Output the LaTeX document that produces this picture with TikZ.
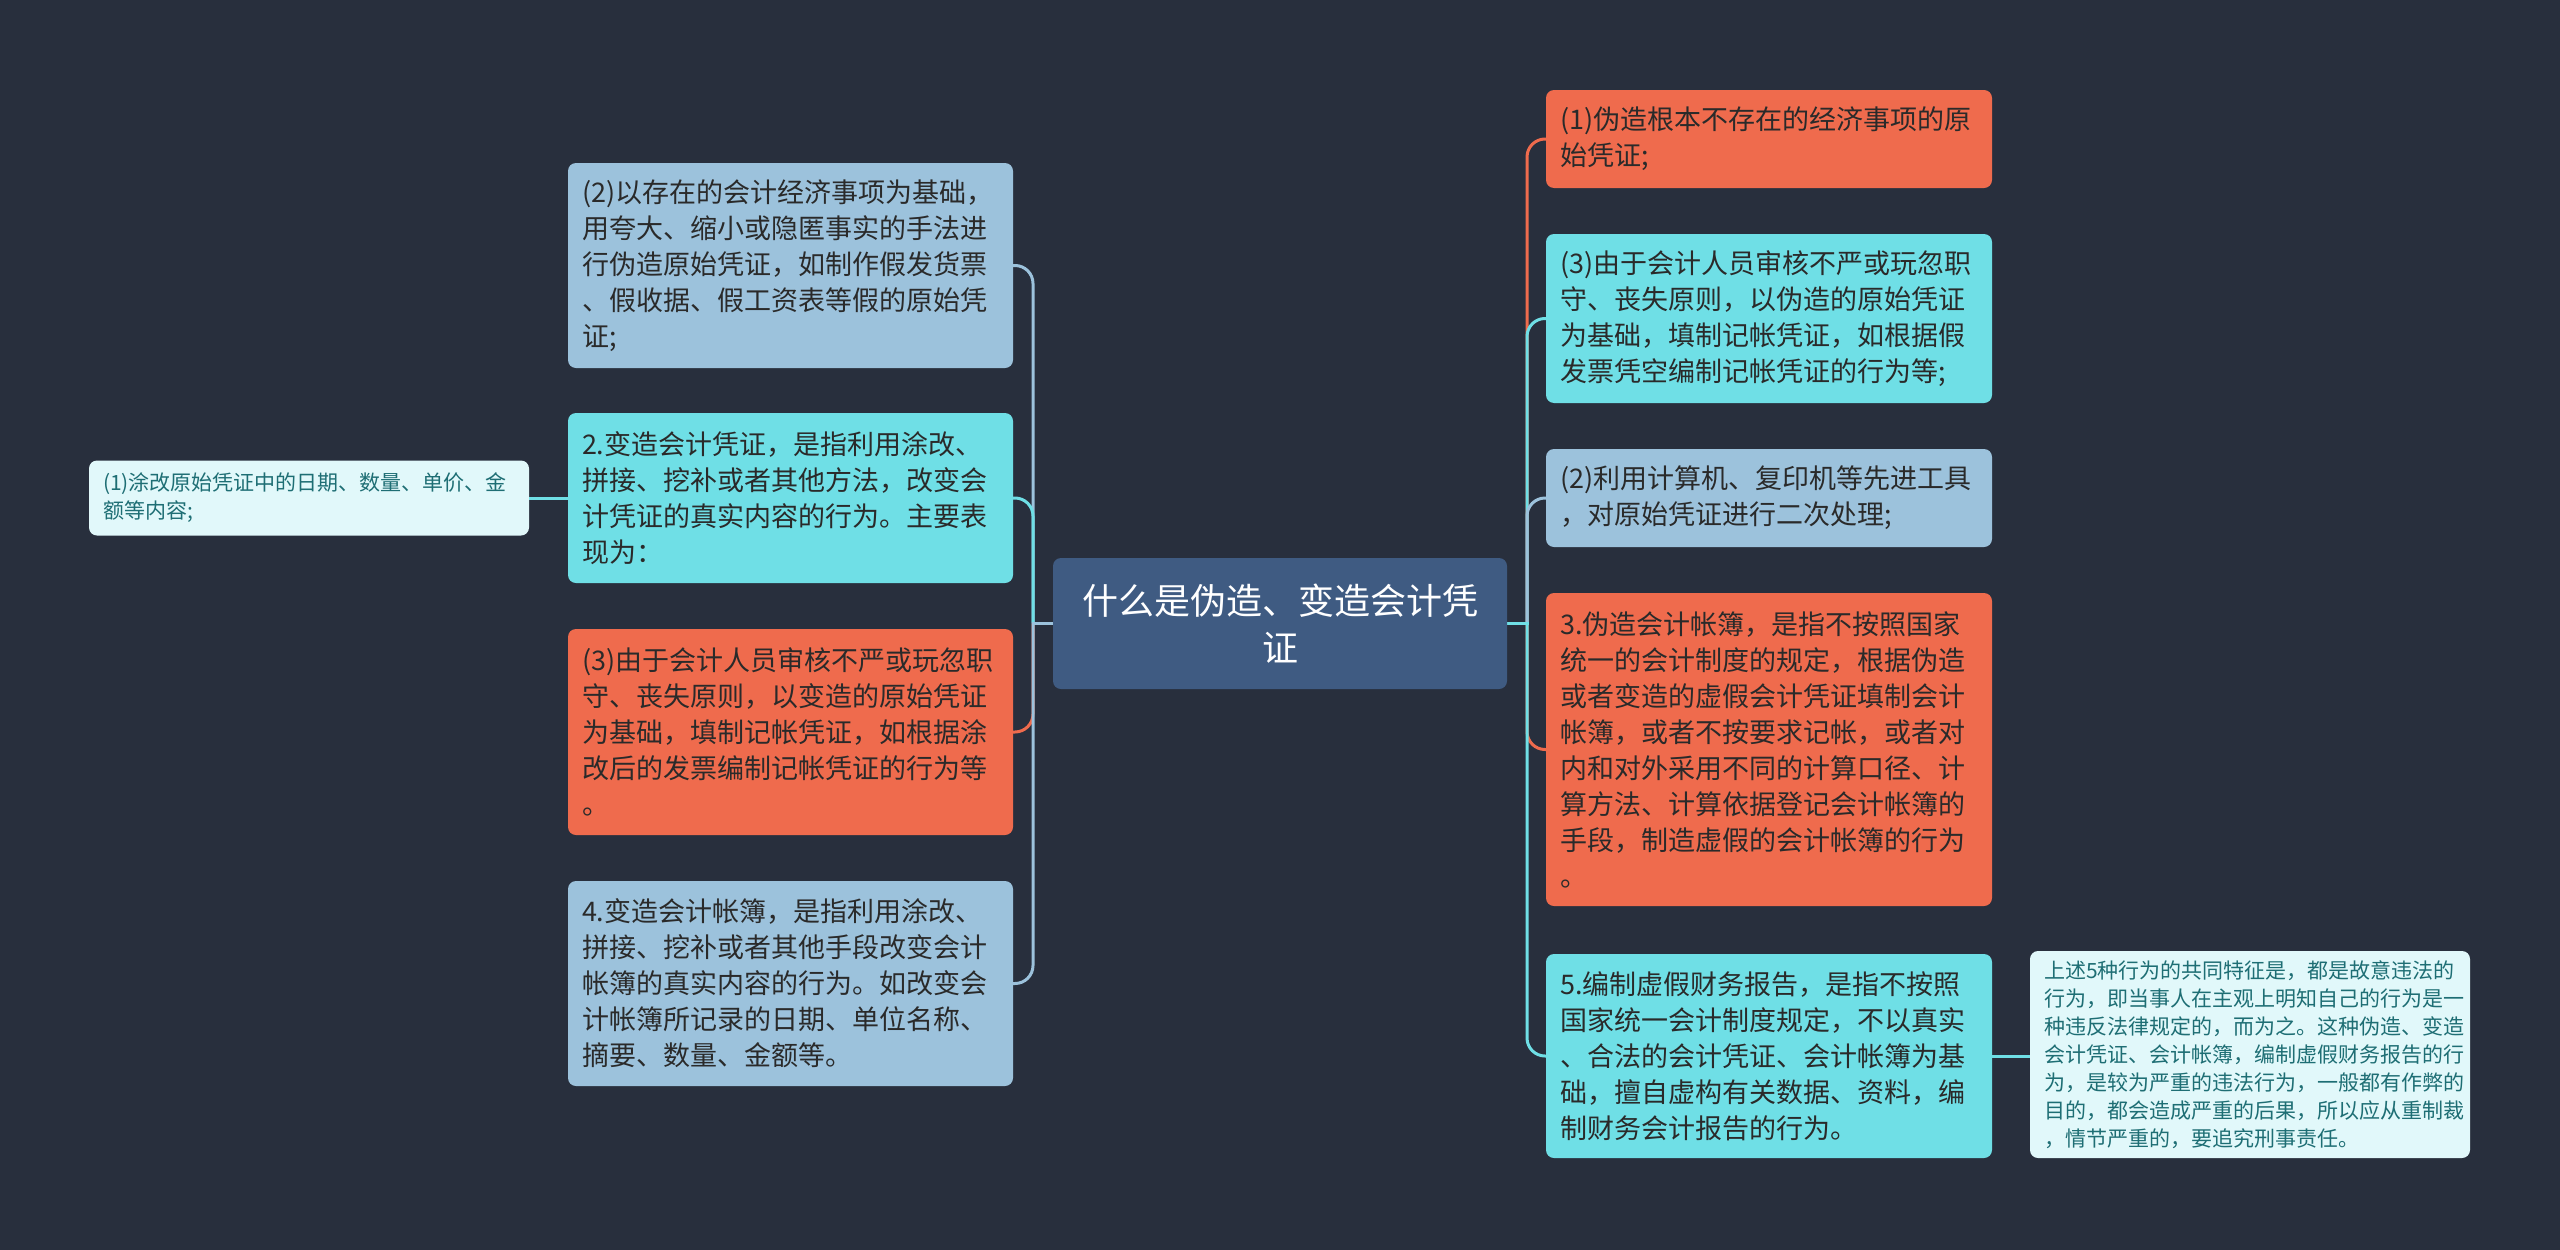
\documentclass[tikz,border=0pt]{standalone}
\usepackage{fontspec}
\setmainfont{Noto Sans CJK SC}
\definecolor{bgc}{HTML}{282F3D}
\definecolor{orng}{HTML}{EF6B4D}
\definecolor{cyn}{HTML}{6FDFE6}
\definecolor{lblu}{HTML}{9CC2DC}
\definecolor{cntr}{HTML}{3F5B82}
\definecolor{pale}{HTML}{E1F8FA}
\definecolor{txt}{HTML}{2A2A2A}
\definecolor{teal}{HTML}{1E6E74}
\pgfdeclarelayer{bglayer}
\pgfdeclarelayer{linelayer}
\pgfsetlayers{bglayer,linelayer,main}
\tikzset{
  box/.style={rounded corners=8pt, inner xsep=14pt, inner ysep=0pt, align=left,
    text=txt, font=\fontsize{27}{36}\selectfont},
  bigL/.style={box, text width=417pt},
  bigR/.style={box, text width=418pt},
  small/.style={box, text=teal, fill=pale, text width=412pt, font=\fontsize{21}{28}\selectfont},
  conn/.style={line width=3pt, rounded corners=18pt},
}
\begin{document}
\begin{tikzpicture}[x=1pt,y=-1pt]
\begin{pgfonlayer}{bglayer}
\fill[bgc] (0,0) rectangle (2560,1250);
\end{pgfonlayer}
\useasboundingbox (0,0) rectangle (2560,1250);

% central
\node[rounded corners=8pt, fill=cntr, text=white, align=center, minimum width=454pt,
  minimum height=131pt, inner sep=0pt, font=\fontsize{36}{47}\selectfont] (C) at (1280,623.5)
  {什么是伪造、变造会计凭\\证};

% left
\node[bigL, fill=lblu, minimum height=205pt] (L2) at (790.5,265.5)
  {(2)以存在的会计经济事项为基础，\\用夸大、缩小或隐匿事实的手法进\\行伪造原始凭证，如制作假发货票\\、假收据、假工资表等假的原始凭\\证;};
\node[bigL, fill=cyn, minimum height=170pt] (Lb) at (790.5,498)
  {2.变造会计凭证，是指利用涂改、\\拼接、挖补或者其他方法，改变会\\计凭证的真实内容的行为。主要表\\现为：};
\node[bigL, fill=orng, minimum height=206pt] (L3) at (790.5,732)
  {(3)由于会计人员审核不严或玩忽职\\守、丧失原则，以变造的原始凭证\\为基础，填制记帐凭证，如根据涂\\改后的发票编制记帐凭证的行为等\\。};
\node[bigL, fill=lblu, minimum height=205pt] (L4) at (790.5,983.5)
  {4.变造会计帐簿，是指利用涂改、\\拼接、挖补或者其他手段改变会计\\帐簿的真实内容的行为。如改变会\\计帐簿所记录的日期、单位名称、\\摘要、数量、金额等。};
\node[small, minimum height=75pt, text width=412pt] (LL1) at (309,498)
  {(1)涂改原始凭证中的日期、数量、单价、金\\额等内容;};

% right
\node[bigR, fill=orng, minimum height=98pt] (R1) at (1769,139)
  {(1)伪造根本不存在的经济事项的原\\始凭证;};
\node[bigR, fill=cyn, minimum height=169pt] (R3) at (1769,318.5)
  {(3)由于会计人员审核不严或玩忽职\\守、丧失原则，以伪造的原始凭证\\为基础，填制记帐凭证，如根据假\\发票凭空编制记帐凭证的行为等;};
\node[bigR, fill=lblu, minimum height=98pt] (R2) at (1769,498)
  {(2)利用计算机、复印机等先进工具\\，对原始凭证进行二次处理;};
\node[bigR, fill=orng, minimum height=313pt] (Rb3) at (1769,749.5)
  {3.伪造会计帐簿，是指不按照国家\\统一的会计制度的规定，根据伪造\\或者变造的虚假会计凭证填制会计\\帐簿，或者不按要求记帐，或者对\\内和对外采用不同的计算口径、计\\算方法、计算依据登记会计帐簿的\\手段，制造虚假的会计帐簿的行为\\。};
\node[bigR, fill=cyn, minimum height=204pt] (Rb5) at (1769,1056)
  {5.编制虚假财务报告，是指不按照\\国家统一会计制度规定，不以真实\\、合法的会计凭证、会计帐簿为基\\础，擅自虚构有关数据、资料，编\\制财务会计报告的行为。};
\node[small, minimum height=207pt] (RR) at (2250,1054.5)
  {上述5种行为的共同特征是，都是故意违法的\\行为，即当事人在主观上明知自己的行为是一\\种违反法律规定的，而为之。这种伪造、变造\\会计凭证、会计帐簿，编制虚假财务报告的行\\为，是较为严重的违法行为，一般都有作弊的\\目的，都会造成严重的后果，所以应从重制裁\\，情节严重的，要追究刑事责任。};

\coordinate (JL) at (1033,623.5);
\coordinate (JR) at (1527,623.5);

\begin{pgfonlayer}{linelayer}
\draw[conn, lblu] (JL) |- (L2.east);
\draw[conn, cyn] (JL) |- (Lb.east);
\draw[conn, orng] (JL) |- (L3.east);
\draw[conn, lblu] (JL) |- (L4.east);
\draw[line width=3pt, lblu] (C.west) -- ([xshift=-1.5pt]JL);
\draw[line width=3pt, cyn] (Lb.west) -- (LL1.east);

\draw[conn, orng] (JR) |- (R1.west);
\draw[conn, cyn] (JR) |- (R3.west);
\draw[conn, lblu] (JR) |- (R2.west);
\draw[conn, orng] (JR) |- (Rb3.west);
\draw[conn, cyn] (JR) |- (Rb5.west);
\draw[line width=3pt, cyn] (C.east) -- ([xshift=1.5pt]JR);
\draw[line width=3pt, cyn] (Rb5.east) -- (RR.west |- Rb5.east);
\end{pgfonlayer}
\end{tikzpicture}
\end{document}
